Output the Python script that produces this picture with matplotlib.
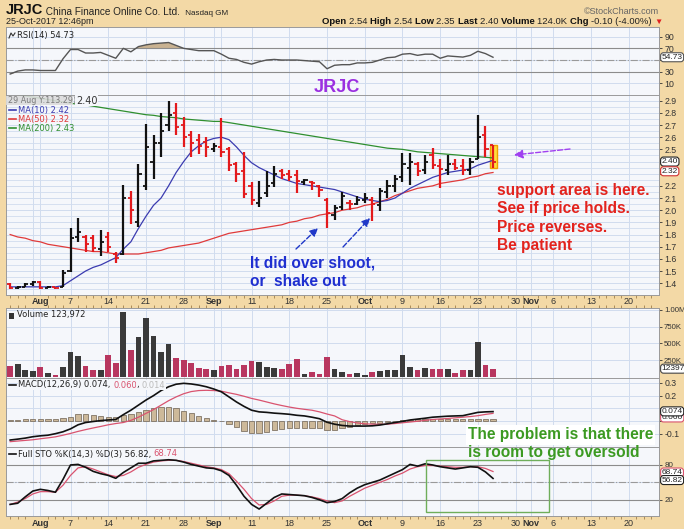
import numpy as np
import pandas as pd
import matplotlib
matplotlib.use("Agg")
import matplotlib.pyplot as plt
from matplotlib.lines import Line2D
from matplotlib.patches import Rectangle
from matplotlib.transforms import blended_transform_factory

plt.rcParams['font.family'] = ['Liberation Sans', 'DejaVu Sans']

# trading days on the x axis (bars up to 25 Oct 2017, empty space up to late Nov)
days = pd.bdate_range('2017-07-26', '2017-11-24')
days = days[~days.isin(pd.to_datetime(['2017-09-04', '2017-11-23']))]

# daily bars
opens = [1.39, 1.36, 1.37, 1.39, 1.41, 1.36, 1.37, 1.37, 1.50, 1.78,
         1.78, 1.77, 1.68, 1.78, 1.64, 1.64, 2.10, 1.90, 2.20, 2.40,
         2.55, 2.70, 2.80, 2.70, 2.62, 2.58, 2.56, 2.50, 2.52, 2.50,
         2.38, 2.32, 2.20, 2.06, 2.14, 2.22, 2.32, 2.30, 2.29, 2.23,
         2.23, 2.20, 2.08, 1.96, 2.03, 2.06, 2.05, 2.08, 2.08, 2.04,
         2.15, 2.20, 2.27, 2.35, 2.38, 2.33, 2.45, 2.36, 2.33, 2.38,
         2.36, 2.33, 2.42, 2.62, 2.54]
highs = [1.40, 1.38, 1.40, 1.42, 1.42, 1.38, 1.37, 1.51, 1.85, 1.94,
         1.80, 1.80, 1.84, 1.82, 1.66, 2.21, 2.16, 2.38, 2.71, 2.62,
         2.80, 2.90, 2.88, 2.77, 2.65, 2.63, 2.60, 2.55, 2.76, 2.52,
         2.40, 2.48, 2.23, 2.24, 2.32, 2.36, 2.34, 2.33, 2.33, 2.26,
         2.24, 2.21, 2.10, 2.04, 2.15, 2.08, 2.12, 2.14, 2.11, 2.18,
         2.25, 2.29, 2.47, 2.47, 2.40, 2.45, 2.51, 2.42, 2.45, 2.42,
         2.42, 2.43, 2.78, 2.69, 2.54]
lows = [1.35, 1.35, 1.37, 1.38, 1.35, 1.36, 1.35, 1.37, 1.49, 1.74,
        1.66, 1.66, 1.62, 1.66, 1.57, 1.63, 1.89, 1.86, 2.17, 2.26,
        2.44, 2.65, 2.62, 2.52, 2.44, 2.46, 2.44, 2.48, 2.44, 2.32,
        2.23, 2.10, 2.04, 2.03, 2.11, 2.19, 2.26, 2.24, 2.14, 2.21,
        2.17, 2.11, 1.85, 1.92, 2.00, 2.00, 2.04, 2.06, 1.91, 1.99,
        2.10, 2.15, 2.23, 2.21, 2.28, 2.30, 2.34, 2.18, 2.29, 2.33,
        2.29, 2.29, 2.42, 2.44, 2.35]
closes = [1.36, 1.37, 1.39, 1.41, 1.36, 1.37, 1.36, 1.48, 1.77, 1.82,
          1.72, 1.69, 1.74, 1.70, 1.61, 2.10, 2.00, 2.30, 2.52, 2.55,
          2.65, 2.78, 2.68, 2.60, 2.55, 2.53, 2.52, 2.53, 2.48, 2.37,
          2.30, 2.13, 2.08, 2.10, 2.20, 2.30, 2.29, 2.27, 2.24, 2.25,
          2.22, 2.17, 1.98, 2.02, 2.12, 2.05, 2.08, 2.10, 2.05, 2.16,
          2.20, 2.26, 2.38, 2.40, 2.32, 2.40, 2.37, 2.34, 2.38, 2.35,
          2.33, 2.40, 2.60, 2.50, 2.40]

# moving averages
ma10 = [1.37, 1.37, 1.37, 1.37, 1.37, 1.37, 1.37, 1.38, 1.42, 1.46,
        1.50, 1.53, 1.55, 1.58, 1.61, 1.68, 1.74, 1.85, 1.95, 2.04,
        2.10, 2.20, 2.31, 2.40, 2.48, 2.53, 2.57, 2.59, 2.60, 2.58,
        2.52, 2.45, 2.39, 2.35, 2.32, 2.29, 2.26, 2.24, 2.22, 2.21,
        2.20, 2.19, 2.18, 2.17, 2.15, 2.13, 2.11, 2.09, 2.08, 2.07,
        2.08, 2.10, 2.14, 2.18, 2.21, 2.24, 2.27, 2.29, 2.31, 2.32,
        2.33, 2.34, 2.37, 2.39, 2.41]
ma50 = [1.80, 1.78, 1.77, 1.75, 1.74, 1.72, 1.71, 1.70, 1.69, 1.68,
        1.67, 1.66, 1.66, 1.65, 1.64, 1.64, 1.64, 1.64, 1.65, 1.66,
        1.67, 1.69, 1.70, 1.71, 1.72, 1.73, 1.75, 1.77, 1.79, 1.81,
        1.82, 1.83, 1.84, 1.85, 1.86, 1.87, 1.88, 1.90, 1.91, 1.93,
        1.94, 1.96, 1.97, 1.98, 2.00, 2.01, 2.02, 2.04, 2.05, 2.07,
        2.09, 2.12, 2.14, 2.16, 2.18, 2.19, 2.20, 2.22, 2.23, 2.24,
        2.25, 2.27, 2.28, 2.30, 2.31]
ma200 = [2.96, 2.95, 2.94, 2.93, 2.92, 2.91, 2.90, 2.89, 2.88, 2.87,
         2.865, 2.855, 2.845, 2.835, 2.825, 2.815, 2.805, 2.795, 2.785, 2.78,
         2.77, 2.765, 2.76, 2.75, 2.745, 2.74, 2.735, 2.73, 2.73, 2.72,
         2.71, 2.70, 2.69, 2.68, 2.67, 2.66, 2.65, 2.64, 2.63, 2.62,
         2.61, 2.60, 2.59, 2.58, 2.57, 2.56, 2.55, 2.54, 2.53, 2.52,
         2.51, 2.505, 2.50, 2.49, 2.48, 2.475, 2.47, 2.465, 2.46, 2.455,
         2.45, 2.445, 2.44, 2.435, 2.43]

# volume, thousands of shares
volume = [165, 190, 100, 90, 150, 65, 35, 150, 365, 315,
          165, 100, 105, 325, 215, 975, 395, 590, 875, 605,
          365, 490, 290, 250, 215, 140, 125, 110, 165, 185,
          115, 175, 245, 230, 150, 140, 115, 190, 275, 50,
          80, 50, 305, 115, 75, 50, 60, 35, 80, 85,
          110, 110, 335, 150, 100, 135, 125, 125, 115, 65,
          105, 105, 525, 175, 124]

# indicators
rsi = [26, 31, 33, 33, 32, 32, 32, 52, 68, 68,
       62, 62, 63, 58, 53, 70, 64, 73, 76, 78,
       79, 80, 75, 70, 68, 66, 66, 66, 60, 53,
       51, 46, 43, 47, 50, 51, 50, 50, 50, 49,
       48, 47, 35, 41, 42, 42, 45, 45, 46, 50,
       54, 55, 60, 61, 58, 60, 60, 53, 57, 56,
       55, 58, 65, 61, 54.73]
macd = [-0.150, -0.143, -0.135, -0.124, -0.117, -0.112, -0.100, -0.085, -0.062, -0.030,
        -0.012, -0.004, 0.003, 0.008, 0.012, 0.050, 0.085, 0.125, 0.165, 0.200,
        0.240, 0.270, 0.290, 0.297, 0.292, 0.283, 0.270, 0.252, 0.230, 0.190,
        0.150, 0.115, 0.085, 0.072, 0.068, 0.062, 0.058, 0.053, 0.045, 0.040,
        0.030, 0.018, -0.010, -0.025, -0.035, -0.040, -0.040, -0.040, -0.038, -0.032,
        -0.022, -0.012, -0.003, 0.008, 0.015, 0.022, 0.030, 0.034, 0.038, 0.040,
        0.042, 0.055, 0.068, 0.072, 0.074]
signal = [-0.163, -0.158, -0.153, -0.148, -0.140, -0.133, -0.125, -0.112, -0.098, -0.082,
          -0.068, -0.055, -0.043, -0.030, -0.020, -0.012, 0.005, 0.030, 0.060, 0.090,
          0.125, 0.160, 0.190, 0.215, 0.232, 0.240, 0.242, 0.240, 0.235, 0.222,
          0.210, 0.195, 0.178, 0.165, 0.150, 0.135, 0.122, 0.110, 0.100, 0.092,
          0.085, 0.072, 0.055, 0.040, 0.010, -0.005, -0.015, -0.022, -0.025, -0.026,
          -0.025, -0.020, -0.014, -0.008, -0.002, 0.005, 0.012, 0.016, 0.020, 0.025,
          0.030, 0.035, 0.042, 0.052, 0.060]
hist = [0.005, 0.006, 0.012, 0.015, 0.015, 0.016, 0.018, 0.025, 0.034, 0.052,
        0.052, 0.047, 0.040, 0.035, 0.028, 0.047, 0.055, 0.068, 0.088, 0.100,
        0.108, 0.113, 0.100, 0.082, 0.066, 0.042, 0.025, 0.010, -0.003, -0.024,
        -0.045, -0.080, -0.093, -0.092, -0.084, -0.072, -0.064, -0.058, -0.057, -0.054,
        -0.052, -0.055, -0.068, -0.068, -0.058, -0.048, -0.035, -0.025, -0.018, -0.012,
        -0.006, 0.003, 0.008, 0.010, 0.012, 0.012, 0.012, 0.012, 0.013, 0.013,
        0.012, 0.014, 0.016, 0.016, 0.014]
sto_k = [12, 14, 25, 35, 38, 36, 33, 55, 80, 81,
         76, 69, 65, 62, 57, 67, 75, 83, 83, 87,
         88, 89, 88, 85, 81, 78, 75, 74, 70, 62,
         45, 26, 12, 4, 14, 24, 30, 29, 28, 27,
         24, 20, 15, 17, 22, 32, 40, 46, 50, 54,
         60, 66, 72, 81, 78, 82, 80, 77, 75, 73,
         75, 77, 76, 68, 56.82]
sto_d = [12, 16, 22, 30, 34, 34, 33, 45, 62, 75,
         77, 73, 68, 63, 60, 62, 68, 76, 81, 85,
         87, 88, 88, 86, 83, 80, 77, 75, 72, 65,
         52, 38, 22, 11, 12, 18, 26, 28, 28, 27,
         25, 22, 18, 15, 18, 26, 33, 40, 45, 50,
         55, 61, 66, 73, 77, 79, 79, 78, 77, 76,
         76, 77, 77, 74, 68.74]

W, H = 684, 529
fig = plt.figure(figsize=(6.84, 5.29), dpi=100)
fig.patch.set_facecolor('#f3d9a6')


def fx(px):
    return px / W


def fy(py):
    return 1 - py / H


# grid lines at week starts and month starts
week_starts = [i for i in range(1, len(days)) if days[i].weekday() < days[i - 1].weekday()]
month_starts = [i for i in range(1, len(days)) if days[i].month != days[i - 1].month]
grid_x = sorted(set(week_starts + month_starts))
x = np.arange(len(closes))
grid_c = '#d0dcee'


def panel(top, bottom):
    ax = fig.add_axes([fx(6), fy(bottom), fx(653), (bottom - top) / H])
    ax.set_facecolor('#f5f7fb')
    ax.set_xlim(-0.55, 86)
    ax.set_xticks(grid_x)
    ax.set_xticks(np.arange(len(days)), minor=True)
    ax.tick_params(axis='x', which='both', length=0, labelbottom=False)
    ax.grid(True, axis='x', color=grid_c, lw=0.7)
    ax.grid(True, axis='y', which='major', color=grid_c, lw=0.7)
    ax.yaxis.tick_right()
    ax.tick_params(axis='y', which='major', length=2.5, width=0.6, pad=1.5,
                   labelsize=6.3, colors='#333333')
    ax.tick_params(axis='y', which='minor', length=0)
    for s in ax.spines.values():
        s.set_color('#9a9a9a')
        s.set_linewidth(0.7)
    ax.set_axisbelow(True)
    return ax


def tag(ax, y, s, edge):
    ax.text(1.004, y, s, transform=ax.get_yaxis_transform(), fontsize=6.0,
            va='center', ha='left', color='#222222', clip_on=False, zorder=10,
            bbox=dict(boxstyle='round,pad=0.12,rounding_size=0.35', fc='white', ec=edge, lw=0.8))


def chain(ax, xp, yp, parts, size=6.0, family='DejaVu Sans', bg=None):
    t = None
    for s, c, w, sz in parts:
        kw = dict(color=c, fontsize=sz or size, weight=w, family=family)
        if bg:
            kw['bbox'] = dict(fc=bg, ec='none', pad=0.3)
        if t is None:
            t = fig.text(fx(xp), fy(yp), s, va='center', ha='left', **kw)
        else:
            t = ax.annotate(s, xy=(1, 0), xycoords=t, va='bottom', ha='left',
                            annotation_clip=False, **kw)
    return t


def key_line(xp0, xp1, yp, color):
    fig.add_artist(Line2D([fx(xp0), fx(xp1)], [fy(yp), fy(yp)], color=color, lw=1.2))


ax_rsi = panel(27, 95)
ax_main = panel(95, 295)
ax_vol = panel(308, 378)
ax_macd = panel(378, 447)
ax_sto = panel(447, 516)

# ---- RSI ----
rsi_a = np.array(rsi)
ax_rsi.set_ylim(-10, 106.6)
ax_rsi.set_yticks([10, 30, 50, 70, 90])
ax_rsi.set_yticklabels(['10', '30', '', '70', '90'])   # 50 sits under the value tag
ax_rsi.axhline(70, color='#8c8c8c', lw=0.8)
ax_rsi.axhline(30, color='#8c8c8c', lw=0.8)
ax_rsi.axhline(50, color='#9a9a9a', lw=0.8, ls='-.')
ax_rsi.fill_between(x, rsi_a, 70, where=rsi_a >= 70, interpolate=True, color='#c9b291', lw=0)
ax_rsi.fill_between(x, rsi_a, 30, where=rsi_a <= 30, interpolate=True, color='#c9b291', lw=0)
ax_rsi.plot(x, rsi_a, color='#555555', lw=1.0)
tag(ax_rsi, 54.73, '54.73', '#555555')
fig.add_artist(Line2D([fx(9), fx(11), fx(13), fx(15)], [fy(38), fy(33), fy(36), fy(33)],
                      color='#333333', lw=0.8))
chain(ax_rsi, 17, 35.5, [('RSI(14) 54.73', '#222222', 'normal', None)], size=6.0)
fig.text(fx(337), fy(87), 'JRJC', color='#9b2fe0', fontsize=13, weight='bold',
         ha='center', va='center')

# ---- price ----
ax_main.set_ylim(1.303, 2.947)
price_ticks = np.round(np.arange(1.4, 2.95, 0.1), 1)
ax_main.set_yticks(price_ticks)
ax_main.set_yticklabels(['' if v in (2.3, 2.4) else '%.1f' % v for v in price_ticks])
ax_main.set_yticks(np.arange(1.35, 2.95, 0.1), minor=True)
ax_main.grid(True, axis='y', which='minor', color=grid_c, lw=0.6)
ax_main.tick_params(axis='x', which='minor', bottom=True, length=2, direction='out', color='#a0804c')

prev = np.r_[opens[0], closes[:-1]]
up = np.array(closes) >= prev
bar_c = np.where(up, '#111111', '#e3191c')
ax_main.add_patch(Rectangle((63.55, 2.345), 0.95, 0.19, fc='#ffe03c', ec='#f0a000', lw=1.0, zorder=1.5))
ax_main.plot(x, ma200, color='#2f8f2f', lw=0.9, zorder=2)
ax_main.plot(x, ma50, color='#e03a3a', lw=0.9, zorder=2)
ax_main.plot(x, ma10, color='#3b3bb0', lw=0.9, zorder=2)
ax_main.vlines(x, lows, highs, colors=bar_c, lw=1.6, zorder=3)
ax_main.hlines(opens, x - 0.42, x, colors=bar_c, lw=1.3, zorder=3)
ax_main.hlines(closes, x, x + 0.42, colors=bar_c, lw=1.3, zorder=3)
tag(ax_main, 2.40, '2.40', '#222222')
tag(ax_main, 2.32, '2.32', '#d03030')

fig.add_artist(Rectangle((fx(6), fy(105)), fx(67), 9 / H, transform=fig.transFigure,
                         fc='#dcdcdc', ec='none', alpha=0.9))
fig.text(fx(8), fy(100.5), '29 Aug Y:113.29)', fontsize=5.8, color='#7a7a7a', va='center',
         family='DejaVu Sans')
fig.text(fx(76), fy(100.5), '2.40', fontsize=7, color='#333333', va='center',
         family='DejaVu Sans', bbox=dict(fc='#f5f7fb', ec='none', pad=0.5))
for yp, lab, c in [(110, 'MA(10) 2.42', '#3b3bb0'), (119.3, 'MA(50) 2.32', '#e03a3a'),
                   (128.3, 'MA(200) 2.43', '#2f8f2f')]:
    key_line(9, 16, yp, c)
    fig.text(fx(17.5), fy(yp), lab, fontsize=6, color=c, va='center', family='DejaVu Sans')


# date labels between the price and volume panels, and at the bottom
def date_labels(yp):
    tr = blended_transform_factory(ax_main.transData, fig.transFigure)
    for i in grid_x:
        if i in month_starts:
            ax_main.text(i, fy(yp), days[i].strftime('%b'), transform=tr, fontsize=6.5,
                         weight='bold', ha='center', va='center', color='#333333', clip_on=False)
        elif min(abs(i - m) for m in month_starts) > 1:
            ax_main.text(i, fy(yp), str(days[i].day), transform=tr, fontsize=6.5,
                         ha='center', va='center', color='#333333', clip_on=False)


date_labels(302)
date_labels(523)

# ---- volume ----
vol = np.array(volume) * 1000
ax_vol.set_ylim(-15000, 1028000)
ax_vol.set_yticks([250000, 500000, 750000, 1000000])
ax_vol.set_yticklabels(['250K', '500K', '750K', '1.00M'])
ax_vol.tick_params(axis='y', labelsize=5.6, pad=1)
ax_vol.tick_params(axis='x', which='minor', top=True, bottom=False, length=2,
                   direction='out', color='#a0804c')
ax_vol.bar(x, vol, width=0.75, color=np.where(up, '#3a3a3a', '#b8365f'), zorder=2)
tag(ax_vol, 123972, '12397', '#444444')
fig.add_artist(Rectangle((fx(9), fy(319)), fx(5), 6 / H, transform=fig.transFigure,
                         fc='#333333', ec='none'))
chain(ax_vol, 17, 315, [('Volume 123,972', '#222222', 'normal', None)], size=6.0)

# ---- MACD ----
ax_macd.set_ylim(-0.205, 0.339)
ax_macd.set_yticks([-0.1, 0.0, 0.1, 0.2, 0.3])
ax_macd.set_yticklabels(['-0.1', '', '', '0.2', '0.3'])   # 0.0 and 0.1 sit under the tags
ax_macd.bar(x, hist, width=0.7, color='#cdb99a', edgecolor='#6e6150', lw=0.5, zorder=2)
ax_macd.plot(x, signal, color='#d9536f', lw=0.9, zorder=3)
ax_macd.plot(x, macd, color='#111111', lw=1.2, zorder=3)
tag(ax_macd, 0.028, '0.060', '#d9536f')
tag(ax_macd, 0.076, '0.074', '#222222')
key_line(9, 16, 385, '#111111')
chain(ax_macd, 18, 385, [('MACD(12,26,9) 0.074, ', '#222222', 'normal', None),
                         ('0.060', '#d9536f', 'normal', None), (', ', '#222222', 'normal', None),
                         ('0.014', '#bbbbbb', 'normal', None)], size=6.0, bg='#f5f7fb')

# ---- Full stochastics ----
ax_sto.set_ylim(-8, 111)
ax_sto.set_yticks([20, 50, 80])
ax_sto.set_yticklabels(['20', '', '80'])
ax_sto.tick_params(axis='y', labelsize=5.8)
ax_sto.axhline(80, color='#8c8c8c', lw=0.8)
ax_sto.axhline(20, color='#8c8c8c', lw=0.8)
ax_sto.axhline(50, color='#9a9a9a', lw=0.8, ls='-.')
ax_sto.tick_params(axis='x', which='minor', bottom=True, length=2, direction='out', color='#a0804c')
ax_sto.plot(x, sto_d, color='#d9536f', lw=0.9)
ax_sto.plot(x, sto_k, color='#111111', lw=1.2)
tag(ax_sto, 67.0, '68.74', '#d9536f')
tag(ax_sto, 54.0, '56.82', '#222222')
key_line(9, 16, 454, '#111111')
chain(ax_sto, 18, 454, [('Full STO %K(14,3) %D(3) 56.82, ', '#222222', 'normal', None),
                        ('68.74', '#d9536f', 'normal', None)], size=6.0)

# ---- header ----
chain(ax_rsi, 6, 10, [('JRJC', '#111111', 'bold', 10.5),
                      (' China Finance Online Co. Ltd. ', '#222222', 'normal', 7.2),
                      (' Nasdaq GM', '#222222', 'normal', 5.8)], family='Liberation Sans')
fig.text(fx(6), fy(21.5), '25-Oct-2017 12:46pm', fontsize=6.5, va='center', color='#222222')
fig.text(fx(659), fy(11), '\u00a9StockCharts.com', fontsize=6.5, ha='right', va='center', color='#666666')
chain(ax_rsi, 322, 21.5, [('Open ', '#111111', 'bold', None), ('2.54 ', '#222222', 'normal', None),
                          ('High ', '#111111', 'bold', None), ('2.54 ', '#222222', 'normal', None),
                          ('Low ', '#111111', 'bold', None), ('2.35 ', '#222222', 'normal', None),
                          ('Last ', '#111111', 'bold', None), ('2.40 ', '#222222', 'normal', None),
                          ('Volume ', '#111111', 'bold', None), ('124.0K ', '#222222', 'normal', None),
                          ('Chg ', '#111111', 'bold', None), ('-0.10 (-4.00%) ', '#222222', 'normal', None),
                          ('\u25bc', '#e02020', 'normal', 6)],
      size=6.8, family='Liberation Sans')

# ---- annotations ----
ann_blue = '#1f2fd0'
fig.text(fx(250), fy(263.5), 'It did over shoot,', fontsize=11.2, weight='bold', color=ann_blue, va='center')
fig.text(fx(250), fy(281.5), 'or  shake out', fontsize=11.2, weight='bold', color=ann_blue, va='center')
for (x0, y0), (x1, y1) in [((296, 249), (318, 228)), ((343, 247), (370, 218))]:
    ax_main.annotate('', xy=(fx(x1), fy(y1)), xytext=(fx(x0), fy(y0)), xycoords='figure fraction',
                     arrowprops=dict(arrowstyle='-|>', color='#2038c8', lw=1.0, ls='--',
                                     mutation_scale=12, shrinkA=0, shrinkB=0))
ax_main.annotate('', xy=(fx(514), fy(155)), xytext=(fx(570), fy(149)), xycoords='figure fraction',
                 arrowprops=dict(arrowstyle='-|>', color='#a040f0', lw=1.0, ls='--',
                                 mutation_scale=13, shrinkA=0, shrinkB=0))

red_txt = ['support area is here.', 'See if price holds.', 'Price reverses.', 'Be patient']
for k, s in enumerate(red_txt):
    fig.text(fx(497), fy(190 + 18.5 * k), s, fontsize=11.2, weight='bold', color='#e3231d', va='center')

fig.text(fx(468), fy(435), 'The problem is that there', fontsize=11.2, weight='bold', color='#3c9a22',
         va='center', bbox=dict(fc='white', ec='none', pad=1.5))
fig.text(fx(468), fy(453), 'is room to get oversold', fontsize=11.2, weight='bold', color='#3c9a22',
         va='center')
fig.add_artist(Rectangle((fx(426), fy(512)), fx(123), 52 / H, transform=fig.transFigure,
                         fill=False, ec='#6fae5a', lw=1.0))

plt.savefig('out.png', dpi=100, facecolor=fig.get_facecolor())
